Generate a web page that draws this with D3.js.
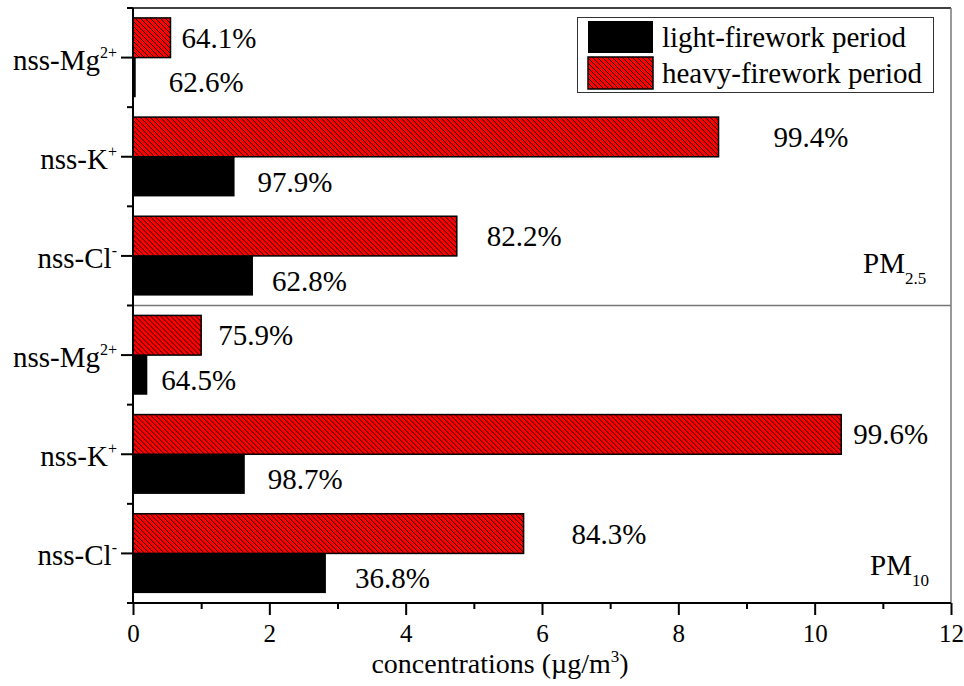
<!DOCTYPE html>
<html>
<head>
<meta charset="utf-8">
<script src="https://cdn.jsdelivr.net/npm/d3@7"></script>
<style>
  html, body { margin: 0; padding: 0; background: #fff; }
  svg { display: block; font-family: "Liberation Serif", "Times New Roman", serif; }
</style>
</head>
<body>
<svg id="chart" width="964" height="686"></svg>
<script>
// ---------------- data ----------------
const fractions = ["PM2.5", "PM10"];
const ions = ["nss-Mg", "nss-K", "nss-Cl"];
const ionCharges = ["2+", "+", "-"];
const seriesNames = ["light-firework period", "heavy-firework period"];

const lightPM25 = [0.04, 1.49, 1.76];
const heavyPM25 = [0.55, 8.59, 4.75];
const lightPM10 = [0.21, 1.64, 2.83];
const heavyPM10 = [1.00, 10.39, 5.73];

const lightPctPM25 = ["62.6%", "97.9%", "62.8%"];
const heavyPctPM25 = ["64.1%", "99.4%", "82.2%"];
const lightPctPM10 = ["64.5%", "98.7%", "36.8%"];
const heavyPctPM10 = ["75.9%", "99.6%", "84.3%"];

const xTickValues = [0, 2, 4, 6, 8, 10, 12];
const xMinorTickValues = [1, 3, 5, 7, 9, 11];

// layout tweaks: horizontal gap (px) between bar end and its percentage label
const heavyLabelGapPM25 = [11, 55, 30];
const lightLabelGapPM25 = [33, 23, 19];
const heavyLabelGapPM10 = [17, 12, 48];
const lightLabelGapPM10 = [14, 23, 29];

// ---------------- build rows ----------------
const rows = [];
[[heavyPM25, lightPM25, heavyPctPM25, lightPctPM25, heavyLabelGapPM25, lightLabelGapPM25, "PM2.5"],
 [heavyPM10, lightPM10, heavyPctPM10, lightPctPM10, heavyLabelGapPM10, lightLabelGapPM10, "PM10"]]
  .forEach(([hv, lv, hp, lp, hg, lg, frac]) => {
    ions.forEach((ion, i) => {
      rows.push({
        key: frac + "|" + ion, ion, charge: ionCharges[i], frac,
        heavy: hv[i], light: lv[i], heavyPct: hp[i], lightPct: lp[i],
        heavyGap: hg[i], lightGap: lg[i]
      });
    });
  });

// ---------------- scales ----------------
const svg = d3.select("#chart");
const pLeft = 133, pRight = 951, pTop = 8, pBottom = 603;

const x = d3.scaleLinear().domain([0, 12]).range([pLeft, pRight]);
const y = d3.scaleBand().domain(rows.map(d => d.key)).range([pTop, pBottom]).padding(0);
const ySub = d3.scaleBand().domain(["heavy", "light"]).range([0, y.bandwidth()])
  .paddingInner(0).paddingOuter(0.25);

// ---------------- hatch pattern ----------------
const defs = svg.append("defs");
const hw = 5, hh = 5;
const pat = defs.append("pattern")
  .attr("id", "hatch").attr("patternUnits", "userSpaceOnUse")
  .attr("width", hw).attr("height", hh);
pat.append("rect").attr("width", hw).attr("height", hh).attr("fill", "#ff0000");
pat.append("path")
  .attr("d", `M0,0 L${hw},${hh} M${-hw},0 L0,${hh} M${hw},0 L${2 * hw},${hh}`)
  .attr("stroke", "#000").attr("stroke-width", 0.9);

// ---------------- frame ----------------
svg.append("line").attr("x1", pLeft).attr("x2", pRight).attr("y1", pTop).attr("y2", pTop)
  .attr("stroke", "#000").attr("stroke-width", 1.5);
svg.append("line").attr("x1", pRight).attr("x2", pRight).attr("y1", pTop).attr("y2", pBottom)
  .attr("stroke", "#777").attr("stroke-width", 1.5);
// divider between PM2.5 and PM10
const divY = y(rows[3].key);
svg.append("line").attr("x1", pLeft).attr("x2", pRight).attr("y1", divY).attr("y2", divY)
  .attr("stroke", "#777").attr("stroke-width", 1.5);

// ---------------- bars ----------------
const g = svg.append("g");
const rowG = g.selectAll("g.row").data(rows).join("g")
  .attr("class", "row")
  .attr("transform", d => `translate(0,${y(d.key)})`);

rowG.append("rect")
  .attr("x", x(0))
  .attr("y", ySub("heavy"))
  .attr("width", d => x(d.heavy) - x(0))
  .attr("height", ySub.bandwidth())
  .attr("fill", "url(#hatch)")
  .attr("stroke", "#000").attr("stroke-width", 1.5);

rowG.append("rect")
  .attr("x", x(0))
  .attr("y", ySub("light"))
  .attr("width", d => x(d.light) - x(0))
  .attr("height", ySub.bandwidth())
  .attr("fill", "#000");

// percentage labels
rowG.append("text")
  .attr("x", d => x(d.heavy) + d.heavyGap)
  .attr("y", ySub("heavy") + ySub.bandwidth() / 2 + 10)
  .attr("font-size", 29)
  .attr("fill", "#000")
  .text(d => d.heavyPct);

rowG.append("text")
  .attr("x", d => x(d.light) + d.lightGap)
  .attr("y", ySub("light") + ySub.bandwidth() / 2 + 15)
  .attr("font-size", 29)
  .attr("fill", "#000")
  .text(d => d.lightPct);

// ---------------- y axis ----------------
const yAxisG = svg.append("g");
yAxisG.append("line").attr("x1", pLeft).attr("x2", pLeft).attr("y1", pTop).attr("y2", pBottom)
  .attr("stroke", "#000").attr("stroke-width", 2);
// major ticks at category centres
yAxisG.selectAll("line.major").data(rows).join("line")
  .attr("class", "major")
  .attr("x1", pLeft - 12).attr("x2", pLeft)
  .attr("y1", d => y(d.key) + y.bandwidth() / 2)
  .attr("y2", d => y(d.key) + y.bandwidth() / 2)
  .attr("stroke", "#000").attr("stroke-width", 2);
// minor ticks at band boundaries
const boundaries = rows.map(d => y(d.key)).concat([y.range()[1]]);
yAxisG.selectAll("line.minor").data(boundaries).join("line")
  .attr("class", "minor")
  .attr("x1", pLeft - 6).attr("x2", pLeft)
  .attr("y1", d => d).attr("y2", d => d)
  .attr("stroke", "#000").attr("stroke-width", 2);
// category labels
const catText = yAxisG.selectAll("text.cat").data(rows).join("text")
  .attr("class", "cat")
  .attr("x", pLeft - 16)
  .attr("y", d => y(d.key) + y.bandwidth() / 2 + 12)
  .attr("text-anchor", "end")
  .attr("font-size", 29)
  .attr("fill", "#000");
catText.append("tspan").text(d => d.ion);
catText.append("tspan").attr("dy", -12).attr("font-size", 16).text(d => d.charge);

// ---------------- x axis ----------------
const xAxisG = svg.append("g").attr("transform", `translate(0,${pBottom})`);
xAxisG.call(d3.axisBottom(x).tickValues(xTickValues).tickSize(12).tickSizeOuter(0).tickPadding(9))
  .call(a => a.select(".domain").remove());
xAxisG.selectAll(".tick line").attr("stroke-width", 2);
xAxisG.selectAll(".tick text")
  .attr("font-family", "Liberation Serif, Times New Roman, serif")
  .attr("font-size", 25).attr("fill", "#000");
const xMinorG = svg.append("g").attr("transform", `translate(0,${pBottom})`);
xMinorG.call(d3.axisBottom(x).tickValues(xMinorTickValues).tickSize(6).tickSizeOuter(0).tickFormat(""))
  .call(a => a.select(".domain").remove());
xMinorG.selectAll(".tick line").attr("stroke-width", 2);
svg.append("line").attr("x1", pLeft - 6).attr("x2", pRight).attr("y1", pBottom).attr("y2", pBottom)
  .attr("stroke", "#000").attr("stroke-width", 2);

// axis title
const title = svg.append("text")
  .attr("x", 500).attr("y", 673)
  .attr("text-anchor", "middle")
  .attr("font-size", 28).attr("fill", "#000");
title.append("tspan").text("concentrations (µg/m");
title.append("tspan").attr("dy", -11).attr("font-size", 17).text("3");
title.append("tspan").attr("dy", 11).text(")");

// ---------------- fraction labels ----------------
function fracLabel(xp, yp, main, sub) {
  const t = svg.append("text").attr("x", xp).attr("y", yp)
    .attr("font-size", 29).attr("fill", "#000");
  t.append("tspan").text(main);
  t.append("tspan").attr("dy", 11).attr("font-size", 17).text(sub);
}
fracLabel(863, 273, "PM", "2.5");
fracLabel(870, 575, "PM", "10");

// ---------------- legend ----------------
const lg = svg.append("g");
lg.append("rect").attr("x", 577.5).attr("y", 17.5).attr("width", 356).attr("height", 75)
  .attr("fill", "#fff").attr("stroke", "#333").attr("stroke-width", 1);
const legendItems = [
  { name: seriesNames[0], fill: "#000", stroke: "none" },
  { name: seriesNames[1], fill: "url(#hatch)", stroke: "#000" }
];
legendItems.forEach((it, i) => {
  lg.append("rect").attr("x", 588).attr("y", 21 + i * 36).attr("width", 65).attr("height", 32)
    .attr("fill", it.fill).attr("stroke", it.stroke).attr("stroke-width", 1.5);
  lg.append("text").attr("x", 662).attr("y", 47 + i * 36)
    .attr("font-size", 29).attr("fill", "#000").text(it.name);
});
</script>
</body>
</html>
